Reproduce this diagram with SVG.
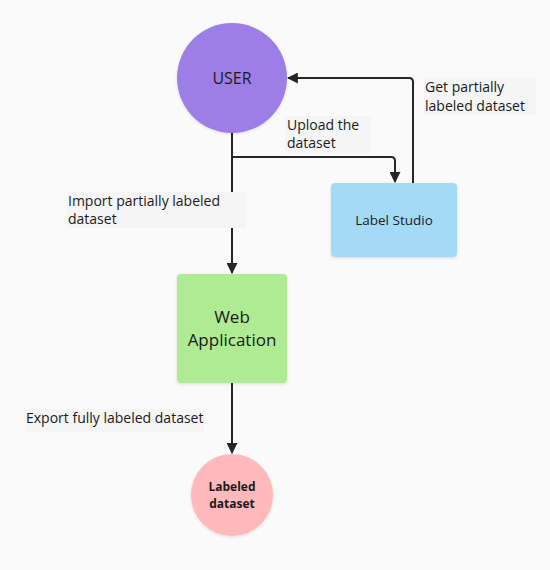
<svg xmlns="http://www.w3.org/2000/svg" width="550" height="570" viewBox="0 0 550 570">
<defs>
<style>
.lbl{font-family:"Open Sans","Liberation Sans",sans-serif;font-size:14px;fill:#1a1a1a}
.lblbg{fill:#f5f5f5}
.edge{fill:none;stroke:#262626;stroke-width:2;stroke-linejoin:round}
.nt{font-family:"Open Sans","Liberation Sans",sans-serif;fill:#1a1a1a;text-anchor:middle}
</style>
<marker id="arr" viewBox="0 0 10 10" refX="9" refY="5" markerWidth="5.5" markerHeight="5.5" orient="auto-start-reverse" markerUnits="strokeWidth">
<path d="M0,0 L10,5 L0,10 z" fill="#262626"/>
</marker>
<filter id="sh" x="-20%" y="-20%" width="140%" height="140%">
<feDropShadow dx="0" dy="1" stdDeviation="1.5" flood-color="#000" flood-opacity="0.12"/>
</filter>
</defs>
<rect width="550" height="570" fill="#fafafa"/>
<g id="connectors">
<path class="edge" d="M232,133 V273" marker-end="url(#arr)"/>
<path class="edge" d="M232,157 H391 Q395,157 395,161 V182" marker-end="url(#arr)"/>
<path class="edge" d="M413,183 V82 Q413,78 409,78 H288" marker-end="url(#arr)"/>
<path class="edge" d="M232,383 V453" marker-end="url(#arr)"/>
</g>
<g id="labels">
<rect class="lblbg" x="285" y="116" width="86" height="37"/>
<text class="lbl" x="287" y="130">Upload the</text>
<text class="lbl" x="287" y="148">dataset</text>
<rect class="lblbg" x="424" y="78" width="112" height="37"/>
<text class="lbl" x="425" y="92">Get partially</text>
<text class="lbl" x="425" y="111">labeled dataset</text>
<rect class="lblbg" x="67" y="192" width="179" height="36"/>
<text class="lbl" x="68" y="206">Import partially labeled</text>
<text class="lbl" x="68" y="224">dataset</text>
<rect class="lblbg" x="26" y="409" width="178" height="23"/>
<text class="lbl" x="26" y="423">Export fully labeled dataset</text>
</g>
<g id="user">
<circle cx="232" cy="78" r="55" fill="#9d7ee6" filter="url(#sh)"/>
<text class="nt" x="232" y="84" font-size="16">USER</text>
</g>
<g id="label-studio">
<rect x="331" y="183" width="126" height="74" rx="4" fill="#a3dbf7" filter="url(#sh)"/>
<text class="nt" x="394" y="225" font-size="13.5">Label Studio</text>
</g>
<g id="web-application">
<rect x="177" y="274" width="110" height="109" rx="4" fill="#aeeb93" filter="url(#sh)"/>
<text class="nt" x="232" y="323" font-size="17">Web</text>
<text class="nt" x="232" y="346" font-size="17">Application</text>
</g>
<g id="labeled-dataset">
<circle cx="232" cy="495" r="41" fill="#ffb9ba" filter="url(#sh)"/>
<text class="nt" x="232" y="491" font-size="12" font-weight="bold">Labeled</text>
<text class="nt" x="232" y="508" font-size="12" font-weight="bold">dataset</text>
</g>
</svg>
